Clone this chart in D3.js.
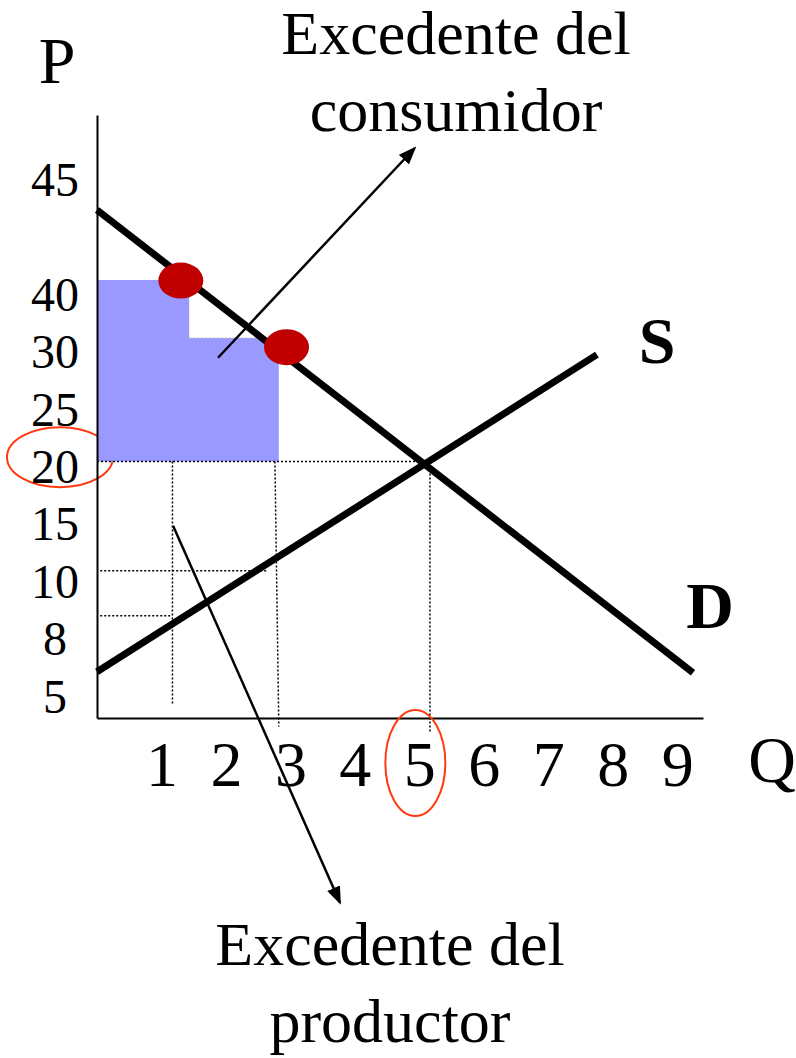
<!DOCTYPE html>
<html>
<head>
<meta charset="utf-8">
<script src="https://cdn.jsdelivr.net/npm/d3@7"></script>
<style>
  body { margin: 0; background: #fff; }
  text { font-family: "Liberation Serif", "Times New Roman", serif; }
</style>
</head>
<body>
<div id="chart"></div>
<script>
/* Excedente del consumidor y del productor */

// tick labels on the axes
const qTicks = [1, 2, 3, 4, 5, 6, 7, 8, 9];
const pLabels = ["45", "40", "30", "25", "20", "15", "10", "8", "5"];
const pSlots = [9, 7, 6, 5, 4, 3, 2, 1, 0]; // the price axis is drawn in evenly spaced slots

// curves, as [Q, slot] points
const demand = [[0, 8.48], [9.245, 0.42]];
const supply = [[0, 0.435], [7.755, 5.96]];

// consumer surplus steps: [q, top slot], last point closes the step
const steps = [[0, 7.26], [1.43, 6.25], [2.82, 6.25]];
const stepBottom = 4.1;

// willingness to pay points
const points = [[1.30, 7.25], [2.94, 6.09]];

// dotted guides: [q0, slot0, q1, slot1]
const guides = [
    [0, 4.1, 5.15, 4.1],
    [0.05, 2.195, 2.64, 2.195],
    [0.05, 1.41, 1.16, 1.41],
    [1.17, 4.1, 1.17, -0.12],
    [2.76, 4.1, 2.82, -0.52],
    [5.165, 4.1, 5.165, -0.63]
];

// annotation arrows: [q0, slot0, q1, slot1]
const arrows = [
    [1.877, 5.906, 4.93, 9.56],
    [1.18, 2.98, 3.77, -3.59]
];

const width = 796,
    height = 1058;

let svg = d3.select("#chart")
    .append("svg")
    .attr("width", width)
    .attr("height", height)
    .attr("viewBox", [0, 0, width, height]);

let x = d3.scaleLinear()
    .domain([0, 9.4])
    .range([97, 703]);

let y = d3.scaleLinear()
    .domain([-0.37, 10.135])
    .range([718, 115]);

// arrow head
svg.append("defs").append("marker")
    .attr("id", "head")
    .attr("markerUnits", "userSpaceOnUse")
    .attr("viewBox", "0 0 18 14")
    .attr("refX", 16)
    .attr("refY", 7)
    .attr("markerWidth", 18)
    .attr("markerHeight", 14)
    .attr("orient", "auto")
    .append("path")
    .attr("d", "M0,0L18,7L0,14Z")
    .attr("fill", "#000");

// red ring around the price label 20 (drawn below the blue area)
svg.append("ellipse")
    .attr("cx", 60)
    .attr("cy", y(4) - 10)
    .attr("rx", 53)
    .attr("ry", 30)
    .attr("fill", "none")
    .attr("stroke", "#ff3a10")
    .attr("stroke-width", 2);

// consumer surplus area, one stepped shape
const area = d3.area()
    .curve(d3.curveStepAfter)
    .x(d => x(d[0]))
    .y0(y(stepBottom))
    .y1(d => y(d[1]));

svg.append("path")
    .datum(steps)
    .attr("d", area)
    .attr("fill", "#9999ff");

svg.append("line")
    .attr("x1", x(steps[1][0]))
    .attr("x2", x(steps[2][0]))
    .attr("y1", y(steps[1][1]))
    .attr("y2", y(steps[1][1]))
    .attr("stroke", "#bbb")
    .attr("stroke-width", 1)
    .attr("stroke-dasharray", "2,2");

// dotted guides
svg.selectAll(".guide")
    .data(guides)
    .join("line")
    .attr("class", "guide")
    .attr("x1", d => x(d[0]))
    .attr("y1", d => y(d[1]))
    .attr("x2", d => x(d[2]))
    .attr("y2", d => y(d[3]))
    .attr("stroke", "#000")
    .attr("stroke-width", 1.5)
    .attr("stroke-dasharray", "2,2");

// supply and demand
const line = d3.line()
    .x(d => x(d[0]))
    .y(d => y(d[1]));

svg.selectAll(".curve")
    .data([demand, supply])
    .join("path")
    .attr("class", "curve")
    .attr("d", line)
    .attr("fill", "none")
    .attr("stroke", "#000")
    .attr("stroke-width", 7);

// red points
svg.selectAll(".pt")
    .data(points)
    .join("ellipse")
    .attr("class", "pt")
    .attr("cx", d => x(d[0]))
    .attr("cy", d => y(d[1]))
    .attr("rx", 22.5)
    .attr("ry", 18)
    .attr("fill", "#c00000");

// arrows to the labels
svg.selectAll(".arrow")
    .data(arrows)
    .join("line")
    .attr("class", "arrow")
    .attr("x1", d => x(d[0]))
    .attr("y1", d => y(d[1]))
    .attr("x2", d => x(d[2]))
    .attr("y2", d => y(d[3]))
    .attr("stroke", "#000")
    .attr("stroke-width", 2.5)
    .attr("marker-end", "url(#head)");

// axes
const xAxis = g => g
    .attr("transform", `translate(0,${y.range()[0]})`)
    .call(d3.axisBottom(x).tickValues(qTicks).tickSize(0).tickPadding(23).tickSizeOuter(0))
    .call(g => g.select(".domain").attr("stroke-width", 2))
    .call(g => g.selectAll("text")
        .attr("font-size", 64)
        .attr("font-family", "Liberation Serif")
        .attr("fill", "#000"));

const yAxis = g => g
    .attr("transform", `translate(${x.range()[0]},0)`)
    .call(d3.axisLeft(y).tickValues(pSlots).tickFormat((d, i) => pLabels[i]).tickSize(0).tickSizeOuter(0))
    .call(g => g.select(".domain").attr("stroke-width", 2))
    .call(g => g.selectAll("text")
        .attr("x", -42)
        .attr("text-anchor", "middle")
        .attr("font-size", 48)
        .attr("font-family", "Liberation Serif")
        .attr("fill", "#000"));

svg.append("g").call(xAxis);
svg.append("g").call(yAxis);

// red ring around the quantity label 5
svg.append("ellipse")
    .attr("cx", x(5) - 4)
    .attr("cy", 763)
    .attr("rx", 30)
    .attr("ry", 53)
    .attr("fill", "none")
    .attr("stroke", "#ff3a10")
    .attr("stroke-width", 2);

// axis names and curve labels
svg.append("text").attr("x", 57).attr("y", 83)
    .attr("text-anchor", "middle").attr("font-size", 66).text("P");
svg.append("text").attr("x", 772).attr("y", 782)
    .attr("text-anchor", "middle").attr("font-size", 66).text("Q");
svg.append("text").attr("x", 657).attr("y", 363)
    .attr("text-anchor", "middle").attr("font-size", 66).attr("font-weight", "bold").text("S");
svg.append("text").attr("x", 710).attr("y", 628)
    .attr("text-anchor", "middle").attr("font-size", 66).attr("font-weight", "bold").text("D");

// surplus titles
const titles = [
    {lines: ["Excedente del", "consumidor"], cx: 456, y0: 54},
    {lines: ["Excedente del", "productor"], cx: 390, y0: 965}
];

titles.forEach(t => {
    svg.append("text")
        .attr("text-anchor", "middle")
        .attr("font-size", 62)
        .selectAll("tspan")
        .data(t.lines)
        .join("tspan")
        .attr("x", t.cx)
        .attr("y", (d, i) => t.y0 + i * 77)
        .text(d => d);
});
</script>
</body>
</html>
